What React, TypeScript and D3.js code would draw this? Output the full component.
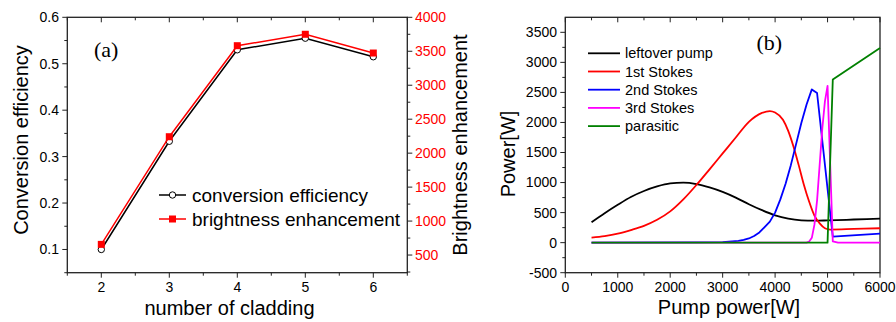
import React from 'react';
import * as d3 from 'd3';

// ---------- Panel (a) data ----------
const claddingNumbers = [2, 3, 4, 5, 6];
const conversionEfficiency = [0.1, 0.333, 0.53, 0.555, 0.515];
const brightnessEnhancement = [657, 2242, 3582, 3750, 3474];
const claddingTicks = [2, 3, 4, 5, 6];
const efficiencyTicks = [0.1, 0.2, 0.3, 0.4, 0.5, 0.6];
const brightnessTicks = [500, 1000, 1500, 2000, 2500, 3000, 3500, 4000];

// ---------- Panel (b) data ----------
const pumpTicks = [0, 1000, 2000, 3000, 4000, 5000, 6000];
const powerTicks = [-500, 0, 500, 1000, 1500, 2000, 2500, 3000, 3500];

const leftoverPumpX = [500, 750, 1000, 1250, 1500, 1750, 2000, 2250, 2500, 2750, 3000, 3250, 3500, 3750, 4000, 4250, 4500, 4750, 5000, 5500, 6000];
const leftoverPumpY = [340, 490, 630, 760, 860, 935, 985, 998, 975, 920, 845, 750, 640, 540, 455, 400, 372, 365, 370, 385, 400];

const stokes1X = [500, 750, 1000, 1250, 1500, 1750, 2000, 2250, 2500, 2750, 3000, 3250, 3500, 3750, 3900, 4000, 4150, 4250, 4350, 4450, 4550, 4650, 4750, 4850, 4950, 5050, 5500, 6000];
const stokes1Y = [85, 110, 150, 210, 280, 380, 520, 720, 960, 1220, 1485, 1750, 2010, 2160, 2190, 2165, 2045, 1860, 1600, 1290, 960, 680, 450, 320, 240, 218, 228, 240];

const stokes2X = [500, 2500, 3000, 3300, 3400, 3500, 3600, 3700, 3800, 3900, 4000, 4100, 4200, 4300, 4400, 4500, 4600, 4700, 4800, 5100, 6000];
const stokes2Y = [0, 3, 10, 30, 45, 70, 110, 170, 260, 350, 500, 720, 980, 1290, 1640, 1990, 2300, 2550, 2490, 100, 150];

const stokes3X = [500, 4600, 4650, 4700, 4750, 4800, 4850, 4900, 4950, 5000, 5100, 5200, 6000];
const stokes3Y = [0, 0, 20, 80, 300, 700, 1300, 1900, 2350, 2610, 20, 0, 0];

const parasiticX = [500, 5000, 5100, 6000];
const parasiticY = [0, 0, 2715, 3238];

const seriesNames = ['leftover pump', '1st Stokes', '2nd Stokes', '3rd Stokes', 'parasitic'];
const seriesColors = ['#000000', '#ff0000', '#0000ff', '#ff00ff', '#008000'];

const SANS = '"Liberation Sans", Arial, Helvetica, sans-serif';
const SERIF = '"Liberation Serif", "Times New Roman", serif';
const AX = '#222';

export default function App() {
  // ---------- scales (a) ----------
  const aL = 67.3, aR = 407.3, T = 17.3, B = 272.7;
  const xA = d3.scaleLinear().domain([1.5, 6.5]).range([aL, aR]);
  const yA = d3.scaleLinear().domain([0.05, 0.6]).range([B, T]);
  const yA2 = d3.scaleLinear().domain([240, 4000]).range([B, T]);

  // ---------- scales (b) ----------
  const bL = 565.3, bR = 880;
  const xB = d3.scaleLinear().domain([0, 6000]).range([bL, bR]);
  const yB = d3.scaleLinear().domain([-500, 3750]).range([B, T]);

  const effPts: [number, number][] = claddingNumbers.map((c, i) => [xA(c), yA(conversionEfficiency[i])]);
  const brPts: [number, number][] = claddingNumbers.map((c, i) => [xA(c), yA2(brightnessEnhancement[i])]);
  const lin = d3.line();

  const mkPath = (xs: number[], ys: number[], smooth: boolean) => {
    const g = d3.line<number>()
      .x((d, i) => xB(xs[i]))
      .y((d) => yB(d));
    if (smooth) g.curve(d3.curveMonotoneX);
    return g(ys) || '';
  };
  const paths = [
    mkPath(leftoverPumpX, leftoverPumpY, true),
    mkPath(stokes1X, stokes1Y, true),
    mkPath(stokes2X, stokes2Y, false),
    mkPath(stokes3X, stokes3Y, false),
    mkPath(parasiticX, parasiticY, false),
  ];

  // minor ticks (midpoints)
  const xAMinor = d3.range(1.5, 6.51, 0.5).filter((v) => Math.abs(v - Math.round(v)) > 0.1);
  const yAMinor = d3.range(0.05, 0.6, 0.1);
  const yA2Minor = d3.range(250, 4000, 500);
  const xBMinor = d3.range(500, 6000, 1000);
  const yBMinor = d3.range(-250, 3750, 500);

  const tickStyle = { stroke: AX, strokeWidth: 1 };

  return (
    <svg width={896} height={322} style={{ position: 'absolute', left: 0, top: 0, background: '#fff' }}>
      <rect x={0} y={0} width={896} height={322} fill="#fff" />
      {/* ================= Panel (a) ================= */}
      <g>
        <rect x={aL} y={T} width={aR - aL} height={B - T} fill="none" stroke={AX} strokeWidth={1.3} />
        {claddingTicks.map((t) => (
          <line key={'xa' + t} x1={xA(t)} x2={xA(t)} y1={B} y2={B + 5} {...tickStyle} />
        ))}
        {xAMinor.map((t) => (
          <line key={'xam' + t} x1={xA(t)} x2={xA(t)} y1={B} y2={B + 3} {...tickStyle} />
        ))}
        {claddingTicks.map((t) => (
          <line key={'xat' + t} x1={xA(t)} x2={xA(t)} y1={T} y2={T + 5} {...tickStyle} />
        ))}
        {xAMinor.map((t) => (
          <line key={'xamt' + t} x1={xA(t)} x2={xA(t)} y1={T} y2={T + 3} {...tickStyle} />
        ))}
        {claddingTicks.map((t) => (
          <text key={'xal' + t} x={xA(t)} y={292} textAnchor="middle" fontFamily={SANS} fontSize={14} fill="#000">{t}</text>
        ))}
        {efficiencyTicks.map((t) => (
          <line key={'ya' + t} x1={aL - 5} x2={aL} y1={yA(t)} y2={yA(t)} {...tickStyle} />
        ))}
        {yAMinor.map((t) => (
          <line key={'yam' + t} x1={aL - 3} x2={aL} y1={yA(t)} y2={yA(t)} {...tickStyle} />
        ))}
        {efficiencyTicks.map((t) => (
          <text key={'yal' + t} x={59} y={yA(t)} dy="0.35em" textAnchor="end" fontFamily={SANS} fontSize={14} fill="#000">{t.toFixed(1)}</text>
        ))}
        {brightnessTicks.map((t) => (
          <line key={'ya2' + t} x1={aR} x2={aR + 5} y1={yA2(t)} y2={yA2(t)} {...tickStyle} />
        ))}
        {yA2Minor.map((t) => (
          <line key={'ya2m' + t} x1={aR} x2={aR + 3} y1={yA2(t)} y2={yA2(t)} {...tickStyle} />
        ))}
        {brightnessTicks.map((t) => (
          <text key={'ya2l' + t} x={415} y={yA2(t)} dy="0.35em" textAnchor="start" fontFamily={SANS} fontSize={14} fill="#ff0000">{t}</text>
        ))}
        <text x={229.5} y={315} textAnchor="middle" fontFamily={SANS} fontSize={20} fill="#000">number of cladding</text>
        <text transform={`translate(27.5,140) rotate(-90)`} textAnchor="middle" fontFamily={SANS} fontSize={20} fill="#000">Conversion efficiency</text>
        <text transform={`translate(466.5,145) rotate(-90)`} textAnchor="middle" fontFamily={SANS} fontSize={20} fill="#000">Brightness enhancement</text>
        <text x={94} y={57} fontFamily={SERIF} fontSize={22} fill="#000">(a)</text>

        <path d={lin(effPts) || ''} fill="none" stroke="#000" strokeWidth={1.5} />
        {effPts.map((p, i) => (
          <circle key={'ec' + i} cx={p[0]} cy={p[1]} r={3.2} fill="#fff" stroke="#000" strokeWidth={1} />
        ))}
        <path d={lin(brPts) || ''} fill="none" stroke="#ff0000" strokeWidth={1.5} />
        {brPts.map((p, i) => (
          <rect key={'br' + i} x={p[0] - 3.5} y={p[1] - 3.5} width={7} height={7} fill="#ff0000" />
        ))}

        <line x1={159} x2={186} y1={195} y2={195} stroke="#000" strokeWidth={1.5} />
        <circle cx={172.5} cy={195} r={3.2} fill="#fff" stroke="#000" strokeWidth={1} />
        <text x={192} y={195} dy="0.35em" fontFamily={SANS} fontSize={19} fill="#000">conversion efficiency</text>
        <line x1={159} x2={186} y1={219} y2={219} stroke="#ff0000" strokeWidth={1.5} />
        <rect x={169} y={215.5} width={7} height={7} fill="#ff0000" />
        <text x={192} y={219} dy="0.35em" fontFamily={SANS} fontSize={19} fill="#000">brightness enhancement</text>
      </g>

      {/* ================= Panel (b) ================= */}
      <g>
        <rect x={bL} y={T} width={bR - bL} height={B - T} fill="none" stroke={AX} strokeWidth={1.3} />
        {pumpTicks.map((t) => (
          <line key={'xb' + t} x1={xB(t)} x2={xB(t)} y1={B} y2={B + 5} {...tickStyle} />
        ))}
        {xBMinor.map((t) => (
          <line key={'xbm' + t} x1={xB(t)} x2={xB(t)} y1={B} y2={B + 3} {...tickStyle} />
        ))}
        {pumpTicks.map((t) => (
          <line key={'xbt' + t} x1={xB(t)} x2={xB(t)} y1={T} y2={T + 5} {...tickStyle} />
        ))}
        {xBMinor.map((t) => (
          <line key={'xbmt' + t} x1={xB(t)} x2={xB(t)} y1={T} y2={T + 3} {...tickStyle} />
        ))}
        {pumpTicks.map((t) => (
          <text key={'xbl' + t} x={xB(t)} y={292} textAnchor="middle" fontFamily={SANS} fontSize={14} fill="#000">{t}</text>
        ))}
        {powerTicks.map((t) => (
          <line key={'yb' + t} x1={bL - 5} x2={bL} y1={yB(t)} y2={yB(t)} {...tickStyle} />
        ))}
        {yBMinor.map((t) => (
          <line key={'ybm' + t} x1={bL - 3} x2={bL} y1={yB(t)} y2={yB(t)} {...tickStyle} />
        ))}
        {powerTicks.map((t) => (
          <text key={'ybl' + t} x={557} y={yB(t)} dy="0.35em" textAnchor="end" fontFamily={SANS} fontSize={14} fill="#000">{t}</text>
        ))}
        <text x={729} y={314} textAnchor="middle" fontFamily={SANS} fontSize={20} fill="#000">Pump power[W]</text>
        <text transform={`translate(515,154) rotate(-90)`} textAnchor="middle" fontFamily={SANS} fontSize={20} fill="#000">Power[W]</text>
        <text x={756.5} y={50} fontFamily={SERIF} fontSize={22} fill="#000">(b)</text>

        {paths.map((d, i) => (
          <path key={'s' + i} d={d} fill="none" stroke={seriesColors[i]} strokeWidth={1.8} strokeLinejoin="round" />
        ))}

        {seriesNames.map((n, i) => (
          <g key={'lg' + i}>
            <line x1={588} x2={620} y1={53.3 + i * 18.2} y2={53.3 + i * 18.2} stroke={seriesColors[i]} strokeWidth={1.8} />
            <text x={625} y={53.3 + i * 18.2} dy="0.35em" fontFamily={SANS} fontSize={14.5} fill="#000">{n}</text>
          </g>
        ))}
      </g>
    </svg>
  );
}
